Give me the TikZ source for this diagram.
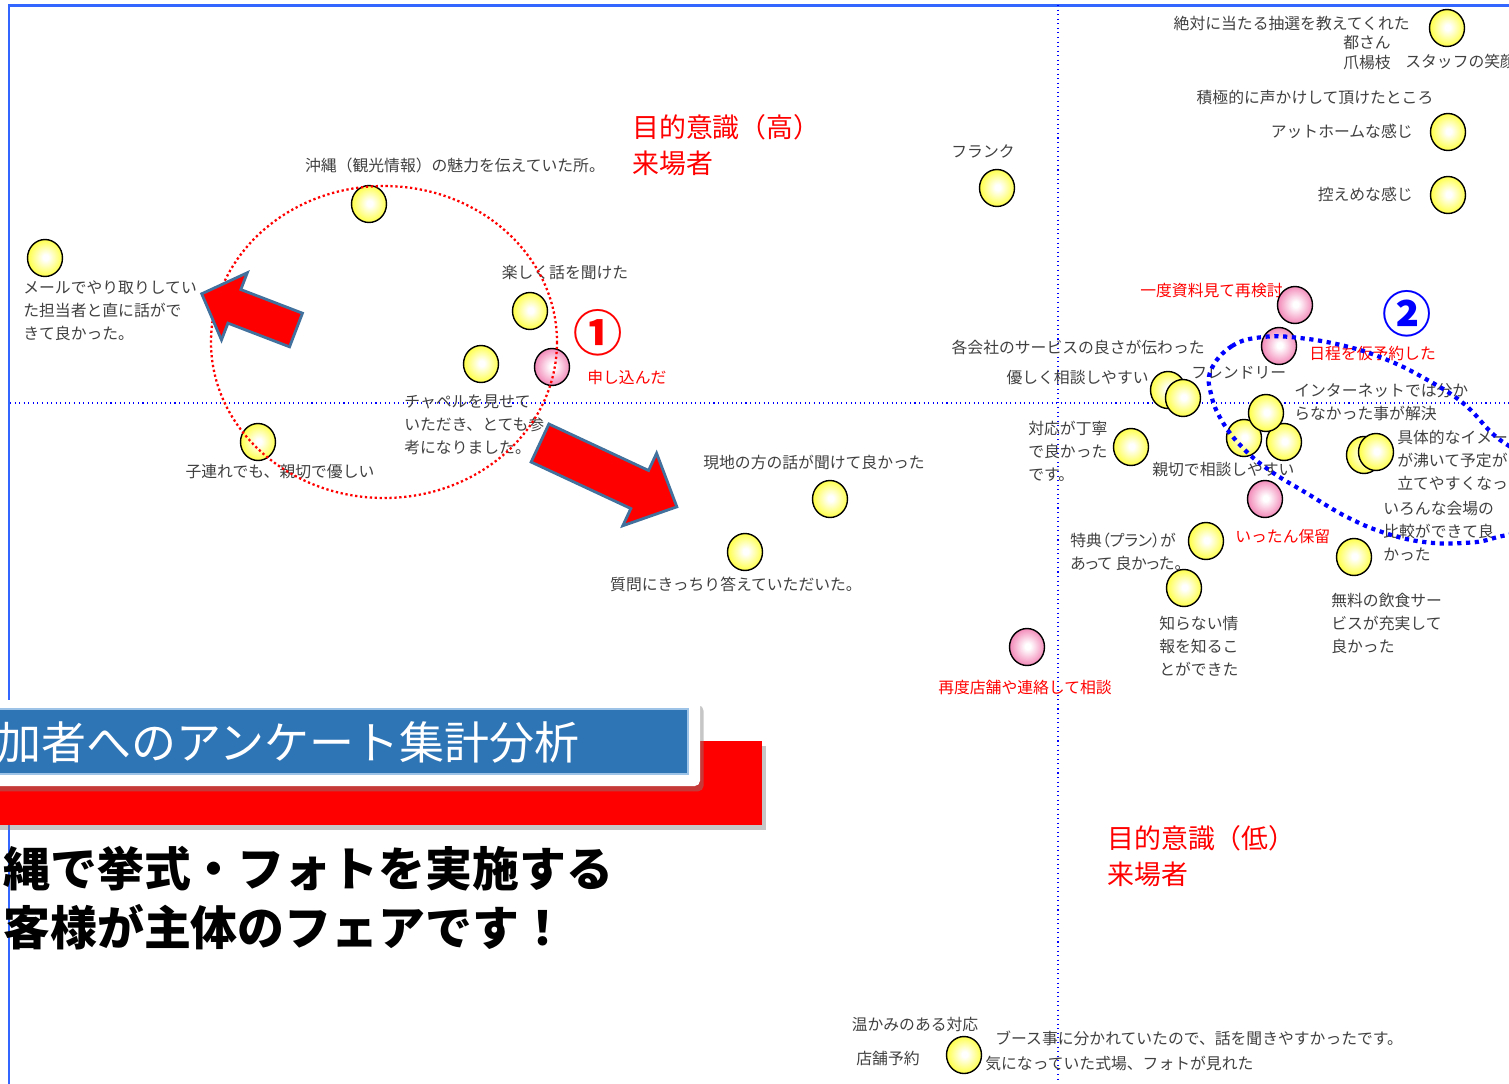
\documentclass[tikz,border=0pt]{standalone}
\usepackage{fontspec}
\newfontfamily\jp{Noto Sans CJK JP}
\newfontfamily\jpp[RawFeature=+palt]{Noto Sans CJK JP}
\usetikzlibrary{shapes.geometric,shadows}

\definecolor{framebl}{RGB}{51,102,255}
\definecolor{labelgray}{RGB}{64,64,64}
\definecolor{bubyel}{RGB}{255,255,30}
\definecolor{bubpink}{RGB}{240,110,168}
\definecolor{arrowedge}{RGB}{65,113,156}
\definecolor{banblue}{RGB}{46,117,182}
\definecolor{banedge}{RGB}{157,195,230}
\pgfdeclareradialshading{ybub}{\pgfpoint{1bp}{1bp}}{color(0bp)=(white);color(4bp)=(white);color(30bp)=(bubyel);color(50bp)=(bubyel)}
\pgfdeclareradialshading{pbub}{\pgfpoint{1bp}{1bp}}{color(0bp)=(white);color(4bp)=(white);color(30bp)=(bubpink);color(50bp)=(bubpink)}

\begin{document}
\begin{tikzpicture}[x=0.02cm,y=-0.02cm,
    bub/.style={ellipse, draw, line width=0.8pt, minimum width=0.7cm, minimum height=0.74cm, inner sep=0pt, shading=ybub},
    pink/.style={bub, shading=pbub},
    lbl/.style={inner sep=0pt, text=labelgray, font=\jp\fontsize{9}{13.1}\selectfont},
    rlbl/.style={lbl, text=red},
    rtitle/.style={inner sep=0pt, text=red, font=\jp\fontsize{15.3}{20.8}\selectfont},
    numlbl/.style={inner sep=0pt, font=\jp\bfseries\fontsize{28}{28}\selectfont},
    axisdot/.style={blue, line width=0.6pt, dash pattern=on 0.6pt off 2pt},
    bigarrow/.style={fill=red, draw=arrowedge, line width=1.6pt, line join=miter}]
\useasboundingbox (0,0) rectangle (1509,1083);
\clip (0,0) rectangle (1509,1083);

% frame and axes
\draw[framebl, line width=1.7pt] (9,1090) -- (9,5) -- (1515,5);
\draw[axisdot] (10,403) -- (1509,403);
\draw[axisdot] (1058,5) -- (1058,1083);

% labels
\node[lbl, anchor=east] (t1) at (1410,23) {絶対に当たる抽選を教えてくれた};
\node[lbl, anchor=west] (t2) at (1343,43) {都さん};
\node[lbl, anchor=west] (t3) at (1343,63) {爪楊枝};
\node[lbl, anchor=west] (t4) at (1405,61) {スタッフの笑顔};
\node[lbl] (t5) at (1315,97) {積極的に声かけして頂けたところ};
\node[lbl, anchor=east] (t6) at (1413,131) {アットホームな感じ};
\node[lbl, anchor=east] (t7) at (1413,194) {控えめな感じ};
\node[lbl] (t8) at (983,151) {フランク};
\node[lbl] (t9) at (455,165) {沖縄（観光情報）の魅力を伝えていた所。};
\node[lbl, anchor=west, align=left] (t10) at (23,311) {メールでやり取りしてい\\た担当者と直に話がで\\きて良かった。};
\node[lbl] (t11) at (565,272) {楽しく話を聞けた};
\node[rlbl, anchor=west] (t12) at (587,377) {申し込んだ};
\node[lbl, anchor=west, align=left] (t13) at (404,425) {チャペルを見せて\\いただき、とても参\\考になりました。};
\node[lbl] (t14) at (280,472) {子連れでも、親切で優しい};
\node[lbl] (t15) at (814,462) {現地の方の話が聞けて良かった};
\node[lbl] (t16) at (736,584) {質問にきっちり答えていただいた。};
\node[rlbl, anchor=east] (t17) at (1283,291) {一度資料見て再検討};
\node[rlbl, anchor=west] (t18) at (1309,353) {日程を仮予約した};
\node[lbl, anchor=east] (t19) at (1205,347) {各会社のサービスの良さが伝わった};
\node[lbl, anchor=east] (t20) at (1149,378) {優しく相談しやすい};
\node[lbl, anchor=west] (t21) at (1191,373) {フレンドリー};
\node[lbl, anchor=west, align=left] (t22) at (1294,402) {インターネットでは分か\\らなかった事が解決};
\node[lbl, anchor=west, align=left] (t23) at (1028,451) {対応が丁寧\\で良かった\\です。};
\node[lbl, anchor=west] (t24) at (1152,470) {親切で相談しやすい};
\node[lbl, anchor=west, align=left] (t25) at (1397,460) {具体的なイメージ\\が沸いて予定が\\立てやすくなった};
\node[lbl, anchor=west, align=left] (t26) at (1383,531) {いろんな会場の\\比較ができて良\\かった};
\node[rlbl, anchor=west] (t27) at (1235,537) {いったん保留};
\node[lbl, font=\jpp\fontsize{9}{13.1}\selectfont, anchor=west, align=left] (t28) at (1070,552) {特典（プラン）が\\あって 良かった。};
\node[lbl, anchor=west, align=left] (t29) at (1159,646) {知らない情\\報を知るこ\\とができた};
\node[lbl, anchor=west, align=left] (t30) at (1331,623) {無料の飲食サー\\ビスが充実して\\良かった};
\node[rlbl] (t31) at (1025,687) {再度店舗や連絡して相談};
\node[lbl] (t32) at (915,1024) {温かみのある対応};
\node[lbl] (t33) at (888,1058) {店舗予約};
\node[lbl, anchor=west] (t34) at (995,1038) {ブース事に分かれていたので、話を聞きやすかったです。};
\node[lbl, anchor=west] (t35) at (985,1063) {気になっていた式場、フォトが見れた};
\node[rtitle, anchor=west, align=left] (hi) at (632,145) {目的意識（高）\\来場者};
\node[rtitle, anchor=west, align=left] (lo) at (1107,856) {目的意識（低）\\来場者};
\node[numlbl, text=red] (one) at (598,333) {①};
\node[numlbl, text=blue] (two) at (1407,314) {②};

% bubbles
\node[bub] (lottery) at (1447,28) {};
\node[bub] (athome) at (1448,132) {};
\node[bub] (modest) at (1448,195) {};
\node[bub] (frank) at (997,188) {};
\node[bub] (okinawa) at (369,204) {};
\node[bub] (mail) at (45,258) {};
\node[bub] (fun) at (530,311) {};
\node[bub] (chapel) at (481,364) {};
\node[pink] (apply) at (552,367) {};
\node[bub] (kids) at (258,442) {};
\node[bub] (local) at (830,499) {};
\node[bub] (answer) at (745,552) {};
\node[pink] (recheck) at (1295,305) {};
\node[pink] (tentative) at (1279,346) {};
\node[bub] (gentle) at (1168,390) {};
\node[bub] (friendly) at (1183,398) {};
\node[bub] (kindA) at (1244,438) {};
\node[bub] (kindB) at (1284,442) {};
\node[bub] (internet) at (1266,413) {};
\node[bub] (polite) at (1131,447) {};
\node[pink] (hold) at (1265,499) {};
\node[bub] (imageA) at (1364,455) {};
\node[bub] (imageB) at (1376,452) {};
\node[bub] (compare) at (1354,557) {};
\node[bub] (bonus) at (1206,541) {};
\node[bub] (unknown) at (1184,588) {};
\node[pink] (shopcons) at (1027,647) {};
\node[bub] (warm) at (964,1055) {};

% groups
\draw[red, line width=1.3pt, dash pattern=on 1.3pt off 1.5pt] (384,342) ellipse [x radius=173, y radius=156];
\draw[blue, line width=2.4pt, dash pattern=on 2.4pt off 2.6pt] plot[smooth cycle, tension=0.7] coordinates {
  (1211,370) (1232,346) (1263,337) (1300,338) (1345,346) (1385,359) (1424,378) (1463,403) (1494,435)
  (1535,470) (1530,522) (1494,538) (1463,543) (1424,542) (1385,533) (1347,517) (1308,494) (1269,470)
  (1242,447) (1222,421) (1211,394)};

% arrows
\begin{scope}[shift={(296,330)}, rotate=159]
  \filldraw[bigarrow] (0,-18) -- (66,-18) -- (66,-36) -- (101,0) -- (66,36) -- (66,18) -- (0,18) -- cycle;
\end{scope}
\begin{scope}[shift={(540,443)}, rotate=-25]
  \filldraw[bigarrow] (0,-21) -- (110,-21) -- (110,-40) -- (151,0) -- (110,40) -- (110,21) -- (0,21) -- cycle;
\end{scope}

% banner
\fill[red, drop shadow={shadow xshift=2pt, shadow yshift=-3pt, opacity=0.45}] (-10,741) rectangle (762,825);
\fill[white, rounded corners=3pt, drop shadow={shadow xshift=2pt, shadow yshift=-3pt, opacity=0.45}] (-10,700) rectangle (700,786);
\filldraw[fill=banblue, draw=banedge, line width=0.6pt] (-10,709) rectangle (688,774);
\node[anchor=west, inner sep=0pt, text=white, font=\jp\fontsize{25.6}{25.6}\selectfont] (ban) at (-4,742) {加者へのアンケート集計分析};
\node[anchor=west, align=left, inner sep=0pt, font=\jp\bfseries\fontsize{26.7}{34}\selectfont] (msg) at (3,898) {縄で挙式・フォトを実施する\\客様が主体のフェアです！};
\end{tikzpicture}
\end{document}
